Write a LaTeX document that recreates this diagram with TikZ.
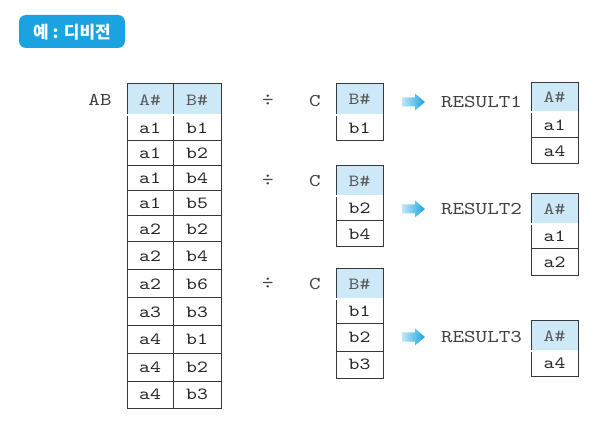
\documentclass[tikz,border=0pt]{standalone}
\usepackage{fontspec}
\newfontfamily\monof{lmmono10-regular.otf}[FakeStretch=1.22]
\newfontfamily\krf{Noto Sans CJK KR}
\begin{document}
\begin{tikzpicture}[x=1pt,y=-1pt,
  grid/.style={draw=black!78,line width=1pt},
  hdr/.style={fill=hdrblue},
  sep/.style={draw=black!78,line width=0.7pt,double=white,double distance=1.1pt},
  txt/.style={font=\monof\fontsize{17}{17}\selectfont,text=black!85,inner sep=0pt,anchor=center},
  htxt/.style={font=\monof\fontsize{17}{17}\selectfont,text=black!65,inner sep=0pt,anchor=center},
  lbl/.style={font=\monof\fontsize{18}{18}\selectfont,text=black!75,inner sep=0pt,anchor=center},
  badge/.style={fill=badgeblue,rounded corners=7pt}]
\definecolor{hdrblue}{HTML}{CDE9F8}
\definecolor{badgeblue}{HTML}{1BA3E1}
\definecolor{arrlight}{HTML}{BFE7F8}
\definecolor{arrdark}{HTML}{18A3E0}
\useasboundingbox (0,0) rectangle (598,433);
% badge
\path[badge] (19,15) rectangle (125,48);
\node[font=\krf\bfseries\fontsize{17}{17}\selectfont,text=white,inner sep=0pt] (badge) at (72,32) {예 : 디비전};
% AB table
\node[lbl] (ablbl) at (100,100) {AB};
\path[hdr] (127,84) rectangle (221,115);
\draw[grid] (127,84) rectangle (173,115);
\draw[grid] (173,84) rectangle (221,115);
\node[htxt] (abh1) at (150,100) {A\#};
\node[htxt] (abh2) at (197,100) {B\#};
\foreach \tp/\bt/\p/\q [count=\i] in {115/141/a1/b1,141/166/a1/b2,166/191/a1/b4,191/216/a1/b5,216/242/a2/b2,242/270/a2/b4,270/298/a2/b6,298/326/a3/b3,326/353/a4/b1,353/381/a4/b2,381/408/a4/b3}{
  \draw[grid] (127,\tp) rectangle (173,\bt);
  \draw[grid] (173,\tp) rectangle (221,\bt);
  \node[txt] (aba\i) at (150,{(\tp+\bt)/2}) {\p};
  \node[txt] (abb\i) at (197,{(\tp+\bt)/2}) {\q};
}
\draw[sep] (127,115) -- (221,115);
% divide signs and C labels
\node[lbl] (div1) at (268,100) {÷};
\node[lbl] (div2) at (268,180) {÷};
\node[lbl] (div3) at (268,283) {÷};
\node[lbl] (c1) at (315,101) {C};
\node[lbl] (c2) at (315,181) {C};
\node[lbl] (c3) at (315,284) {C};
% C tables
\foreach \hT/\hB/\rws/\k in {84/115/{115/141/b1}/1,166/196/{196/221/b2,221/247/b4}/2,269/299/{299/324/b1,324/351/b2,351/378/b3}/3}{
  \path[hdr] (336,\hT) rectangle (383,\hB);
  \draw[grid] (336,\hT) rectangle (383,\hB);
  \node[htxt] (ch\k) at (359.5,{(\hT+\hB)/2}) {B\#};
  \foreach \tp/\bt/\v [count=\j] in \rws {
    \draw[grid] (336,\tp) rectangle (383,\bt);
    \node[txt] (c\k r\j) at (359.5,{(\tp+\bt)/2}) {\v};
  }
  \draw[sep] (336,\hB) -- (383,\hB);
}
% Result tables
\foreach \hT/\hB/\rws/\k in {83/112/{112/138/a1,138/164/a4}/1,194/224/{224/249/a1,249/276/a2}/2,321/351/{351/376/a4}/3}{
  \path[hdr] (531,\hT) rectangle (578,\hB);
  \draw[grid] (531,\hT) rectangle (578,\hB);
  \node[htxt] (rh\k) at (554.5,{(\hT+\hB)/2}) {A\#};
  \foreach \tp/\bt/\v [count=\j] in \rws {
    \draw[grid] (531,\tp) rectangle (578,\bt);
    \node[txt] (r\k r\j) at (554.5,{(\tp+\bt)/2}) {\v};
  }
  \draw[sep] (531,\hB) -- (578,\hB);
}
% arrows and RESULT labels
\foreach \y/\k in {102/1,209/2,337/3}{
  \shade[left color=arrlight,right color=arrdark]
    (402,\y-4.5) -- (415,\y-4.5) -- (415,\y-8.5) -- (425,\y) -- (415,\y+8.5) -- (415,\y+4.5) -- (402,\y+4.5) -- cycle;
  \node[lbl] (res\k) at (481.5,\y) {RESULT\k};
}
\end{tikzpicture}
\end{document}
